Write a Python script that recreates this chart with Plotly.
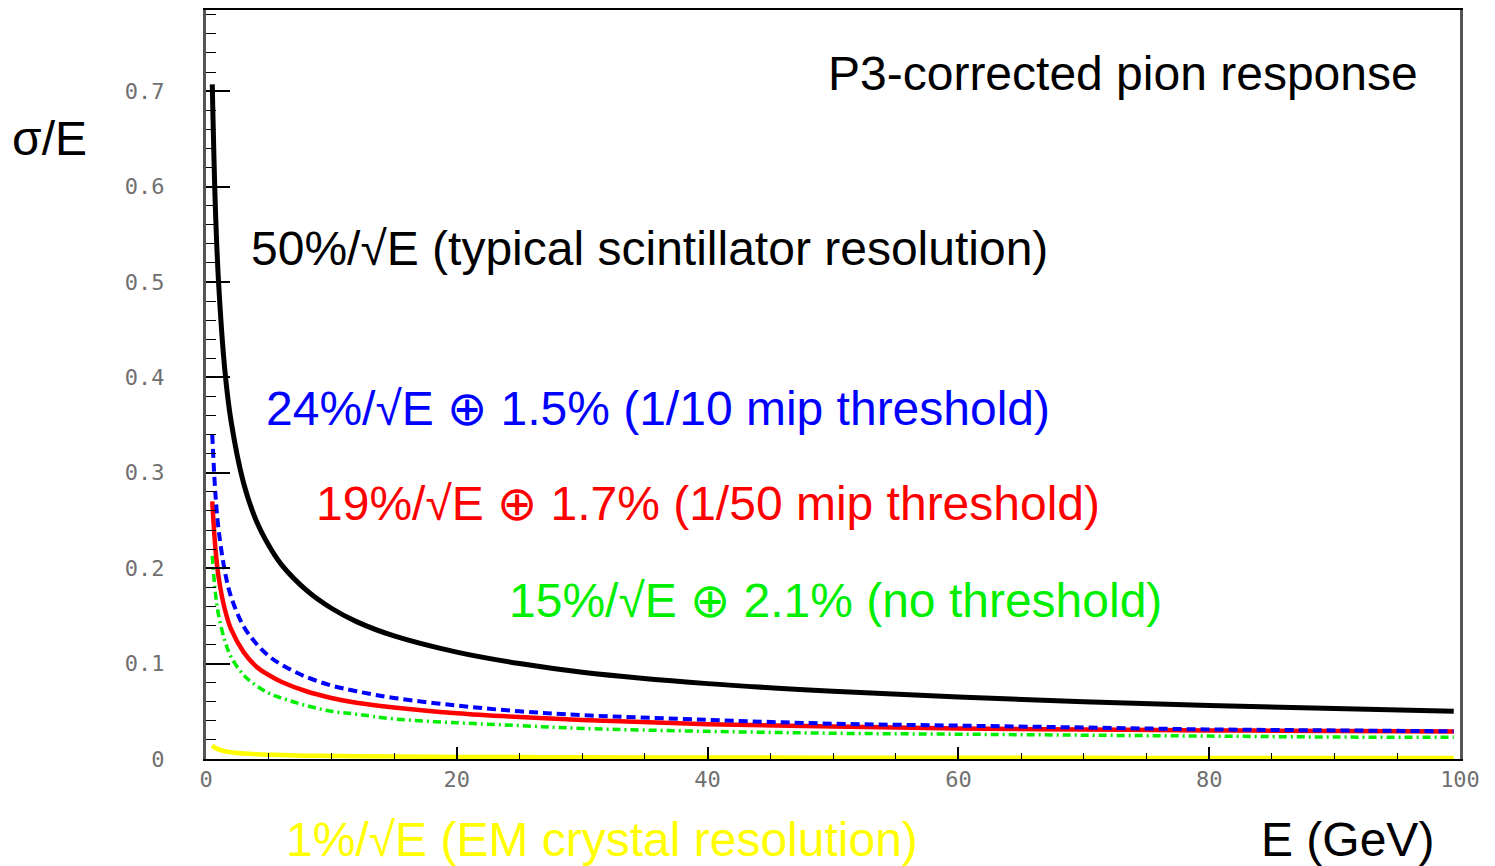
import plotly.graph_objects as go

# Energy points (GeV)
energy = [0.5, 0.75, 1, 1.5, 2, 3, 4, 5, 6, 8, 10, 12, 15, 20, 25, 30, 40, 50, 60, 70, 80, 90, 99.5]

# sigma/E
res_50 = [0.707, 0.577, 0.500, 0.408, 0.354, 0.289, 0.250, 0.224, 0.204, 0.177, 0.158, 0.144, 0.129,
          0.112, 0.100, 0.091, 0.079, 0.071, 0.065, 0.060, 0.056, 0.053, 0.050]
res_24 = [0.340, 0.278, 0.241, 0.197, 0.170, 0.139, 0.121, 0.108, 0.099, 0.086, 0.077, 0.071, 0.064,
          0.056, 0.050, 0.046, 0.041, 0.037, 0.035, 0.033, 0.031, 0.030, 0.029]
res_19 = [0.270, 0.221, 0.191, 0.157, 0.136, 0.112, 0.097, 0.088, 0.081, 0.071, 0.064, 0.059, 0.054,
          0.048, 0.044, 0.041, 0.0365, 0.034, 0.032, 0.031, 0.030, 0.0293, 0.0287]
res_15 = [0.213, 0.174, 0.151, 0.124, 0.107, 0.088, 0.077, 0.069, 0.064, 0.056, 0.050, 0.047, 0.042,
          0.038, 0.035, 0.032, 0.029, 0.027, 0.026, 0.025, 0.024, 0.023, 0.0227]
res_1 = [0.0141, 0.0115, 0.0100, 0.0082, 0.0071, 0.0058, 0.0050, 0.0045, 0.0041, 0.0035, 0.0032, 0.0029,
         0.0026, 0.0022, 0.0020, 0.0018, 0.0016, 0.0014, 0.0013, 0.0012, 0.0011, 0.0011, 0.0010]

y_ticks = [0, 0.1, 0.2, 0.3, 0.4, 0.5, 0.6, 0.7]
y_ticklabels = ["0", "0.1", "0.2", "0.3", "0.4", "0.5", "0.6", "0.7"]
x_ticks = [0, 20, 40, 60, 80, 100]
x_ticklabels = ["0", "20", "40", "60", "80", "100"]

fig = go.Figure()
fig.add_trace(go.Scatter(x=energy, y=res_1, mode="lines", line=dict(color="#ffff00", width=4.5, shape="spline")))
fig.add_trace(go.Scatter(x=energy, y=res_50, mode="lines", line=dict(color="black", width=5, shape="spline")))
fig.add_trace(go.Scatter(x=energy, y=res_15, mode="lines",
                         line=dict(color="#00ee00", width=3.5, dash="8px,4px,2px,4px", shape="spline")))
fig.add_trace(go.Scatter(x=energy, y=res_19, mode="lines", line=dict(color="#ff0000", width=4.5, shape="spline")))
fig.add_trace(go.Scatter(x=energy, y=res_24, mode="lines",
                         line=dict(color="#0000ff", width=4, dash="9px,5px", shape="spline")))

FONT = "Liberation Sans, Arial, sans-serif"
SZ = 48

# page has an 8px body margin; figure coordinates below are screen pixels minus 8
OFF = 8
FIG_W, FIG_H = 1487, 858
L, T = 206 - OFF, 8 - OFF
PW, PH = 1254, 751
R = FIG_W - L - PW
B = FIG_H - T - PH


def px(sx):
    return (sx - 206) / PW


def py(sy):
    return (759 - sy) / PH


def ann(text, sx, sy, color, size=SZ):
    fig.add_annotation(text=text, x=px(sx), y=py(sy), xref="paper", yref="paper", showarrow=False,
                       xanchor="left", yanchor="middle", font=dict(family=FONT, size=size, color=color))


ann("P3-corrected pion response", 826, 72, "black")
ann("σ/E", 10, 137, "black")
ann("50%/√E (typical scintillator resolution)", 249, 247, "black")
ann("24%/√E ⊕ 1.5% (1/10 mip threshold)", 264, 408, "#0000ff")
ann("19%/√E ⊕ 1.7% (1/50 mip threshold)", 314, 503, "#ff0000")
ann("15%/√E ⊕ 2.1% (no threshold)", 507, 600, "#00ee00")
ann("1%/√E (EM crystal resolution)", 284, 840, "#ffff00")
ann("E (GeV)", 1259, 840, "black")

tickfont = dict(family="DejaVu Sans Mono, monospace", size=22, color="#707070")

fig.update_layout(
    width=FIG_W, height=FIG_H,
    margin=dict(l=L, r=R, t=T, b=B),
    paper_bgcolor="white", plot_bgcolor="white",
    showlegend=False,
    xaxis=dict(range=[0, 100], tickvals=x_ticks, ticktext=x_ticklabels, ticks="inside", ticklen=12,
               tickwidth=1.5, tickcolor="black", showgrid=False, zeroline=False, showline=True,
               linecolor="black", linewidth=2, mirror=True, tickfont=tickfont, ticklabelstandoff=0,
               minor=dict(dtick=5, ticks="inside", ticklen=6, tickwidth=1.2, tickcolor="black", showgrid=False)),
    yaxis=dict(range=[0, 0.785], tickvals=y_ticks, ticktext=y_ticklabels, ticks="inside", ticklen=24,
               tickwidth=1.5, tickcolor="black", showgrid=False, zeroline=False, showline=True,
               linecolor="#555555", linewidth=3, mirror=True, tickfont=tickfont, ticklabelstandoff=34,
               minor=dict(dtick=0.02, ticks="inside", ticklen=10, tickwidth=1.2, tickcolor="black", showgrid=False)),
)

fig.write_html("out.html")
